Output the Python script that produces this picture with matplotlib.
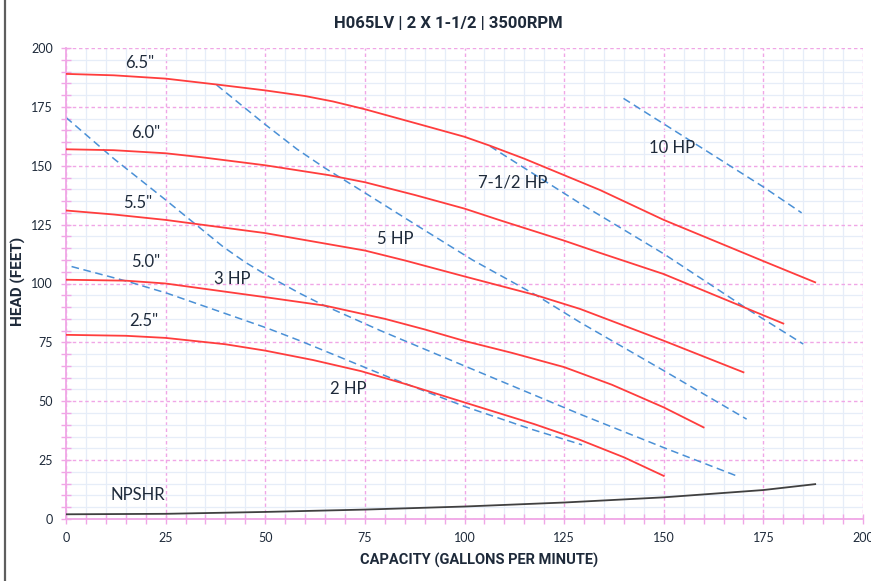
import matplotlib
matplotlib.use("Agg")
import matplotlib.pyplot as plt
from matplotlib.patches import Rectangle
from matplotlib.ticker import MultipleLocator

# ---- data ----
gpm_65 = [0, 12, 25, 37.8, 50, 60, 67, 75, 90, 100, 106.4, 115, 125, 134, 150, 175, 188]
head_65 = [189, 188.4, 187, 184.5, 182, 179.6, 177.3, 174, 167, 162.3, 158.5, 153, 146, 139.7, 127, 109.5, 100.5]

gpm_60 = [0, 12, 25, 33.6, 50, 66, 75, 87.5, 100, 109, 125, 134, 150, 170, 180]
head_60 = [157, 156.6, 155.3, 153.7, 150.2, 146, 143, 137.6, 131.8, 126.8, 118.2, 113, 104, 90, 83]

gpm_55 = [0, 12, 25, 50, 75, 85, 100, 118, 129, 150, 170]
head_55 = [131, 129.3, 127, 121.4, 114, 109.8, 103, 95, 89.2, 75.7, 62.3]

gpm_50 = [0, 15, 25, 50, 65, 80, 90, 100, 112, 125, 137, 150, 160]
head_50 = [101.6, 101.2, 100, 94.2, 90.6, 85, 80.5, 75.6, 70.5, 64.5, 57, 47.4, 38.9]

gpm_25 = [0, 15, 25, 40, 50, 62, 74, 85, 100, 117.5, 129, 140, 150]
head_25 = [78.2, 77.8, 76.9, 74.2, 71.5, 67.5, 62.8, 57.4, 49.5, 40.3, 33.6, 26.2, 18.3]

npshr_gpm = [0, 25, 50, 75, 100, 125, 150, 175, 188]
npshr_head = [2, 2.2, 3, 4, 5.3, 7, 9.2, 12.3, 14.8]

hp2_gpm = [1.4, 15.2, 25.3, 50.4, 58.7, 81.3, 100, 117, 129.5]
hp2_head = [107.2, 101, 95.9, 81.1, 75.7, 60, 47.8, 38, 31.5]

hp3_gpm = [0, 12, 25, 39.5, 45, 50.4, 58.7, 64.6, 78.9, 100, 129, 150, 168.3]
hp3_head = [170.5, 153, 135.5, 115.5, 109, 103.5, 95.8, 90.8, 80, 65, 44.5, 30.3, 18.3]

hp5_gpm = [37.8, 50, 58, 65, 75, 88, 102, 118, 129, 150, 170.8]
hp5_head = [184.3, 167.5, 157, 149, 138.5, 124.7, 110, 95, 83.5, 63, 42.4]

hp75_gpm = [106.4, 129, 150, 171.6, 185]
hp75_head = [158.3, 134, 112.6, 88.5, 74.3]

hp10_gpm = [139.9, 175, 184.6]
hp10_head = [178.6, 141, 130]

labels = ['6.5"', '6.0"', '5.5"', '5.0"', '2.5"', '3 HP', '5 HP', '7-1/2 HP', '10 HP', '2 HP', 'NPSHR']
label_x = [18.6, 20, 18, 20, 19.5, 41.6, 82.5, 112, 152, 70.8, 18]
label_y = [193.6, 164, 134, 109, 84, 102, 119, 143, 157.5, 55, 10]

title = "H065LV | 2 X 1-1/2 | 3500RPM"
xlabel = "CAPACITY (GALLONS PER MINUTE)"
ylabel = "HEAD (FEET)"

# ---- style ----
TXT = "#1e2a3a"
PINK = "#f0a6e6"
RED = "#ff3d3d"
BLUE = "#4a90d6"
BOLDF = ["Roboto", "DejaVu Sans"]

fig = plt.figure(figsize=(8.71, 5.81), dpi=100)
ax = fig.add_axes([66/871, 62/581, (863-66)/871, (519-48)/581])

ax.set_xlim(0, 200)
ax.set_ylim(0, 200)
ax.xaxis.set_major_locator(MultipleLocator(25))
ax.yaxis.set_major_locator(MultipleLocator(25))
ax.xaxis.set_minor_locator(MultipleLocator(5))
ax.yaxis.set_minor_locator(MultipleLocator(5))
ax.grid(which="minor", color="#e6edf8", lw=0.9, ls="-", zorder=0)
ax.grid(which="major", color=PINK, lw=1.0, ls=(0, (2.5, 2)), zorder=0.5)
ax.set_axisbelow(True)
for s in ["top", "right"]:
    ax.spines[s].set_visible(False)
for s in ["left", "bottom"]:
    ax.spines[s].set_color(PINK)
    ax.spines[s].set_linewidth(1.3)
ax.tick_params(which="both", direction="inout", length=7, color=PINK, width=1.0,
               labelsize=9, labelcolor=TXT, pad=6)
for t in ax.get_xticklabels() + ax.get_yticklabels():
    t.set_fontfamily("Lato")

for x, y in [(gpm_65, head_65), (gpm_60, head_60), (gpm_55, head_55),
             (gpm_50, head_50), (gpm_25, head_25)]:
    ax.plot(x, y, color=RED, lw=1.3, zorder=3, solid_joinstyle="round")
for x, y in [(hp2_gpm, hp2_head), (hp3_gpm, hp3_head), (hp5_gpm, hp5_head),
             (hp75_gpm, hp75_head), (hp10_gpm, hp10_head)]:
    ax.plot(x, y, color=BLUE, lw=1.1, ls=(0, (5, 3)), zorder=2)
ax.plot(npshr_gpm, npshr_head, color="#404040", lw=1.3, zorder=3)

for lab, lx, ly in zip(labels, label_x, label_y):
    ax.text(lx, ly, lab, ha="center", va="center", fontsize=12, color=TXT,
            fontfamily="Lato", zorder=4)

fig.text(448/871, 1 - 24/581, title, ha="center", va="center", fontsize=12,
         fontweight="bold", color=TXT, fontfamily=BOLDF)
fig.text(479/871, 1 - 560/581, xlabel, ha="center", va="center", fontsize=10.5,
         fontweight="bold", color=TXT, fontfamily=BOLDF)
fig.text(18/871, 1 - 281/581, ylabel, ha="center", va="center", rotation=90,
         fontsize=11, fontweight="bold", color=TXT, fontfamily=BOLDF)

fig.patches.append(Rectangle((5/871, -0.2), 1.2, 1.2 + (1 - 8/581), transform=fig.transFigure,
                             fill=False, edgecolor="#5e5e5e", lw=1.6))

fig.savefig("out.png", dpi=100)
